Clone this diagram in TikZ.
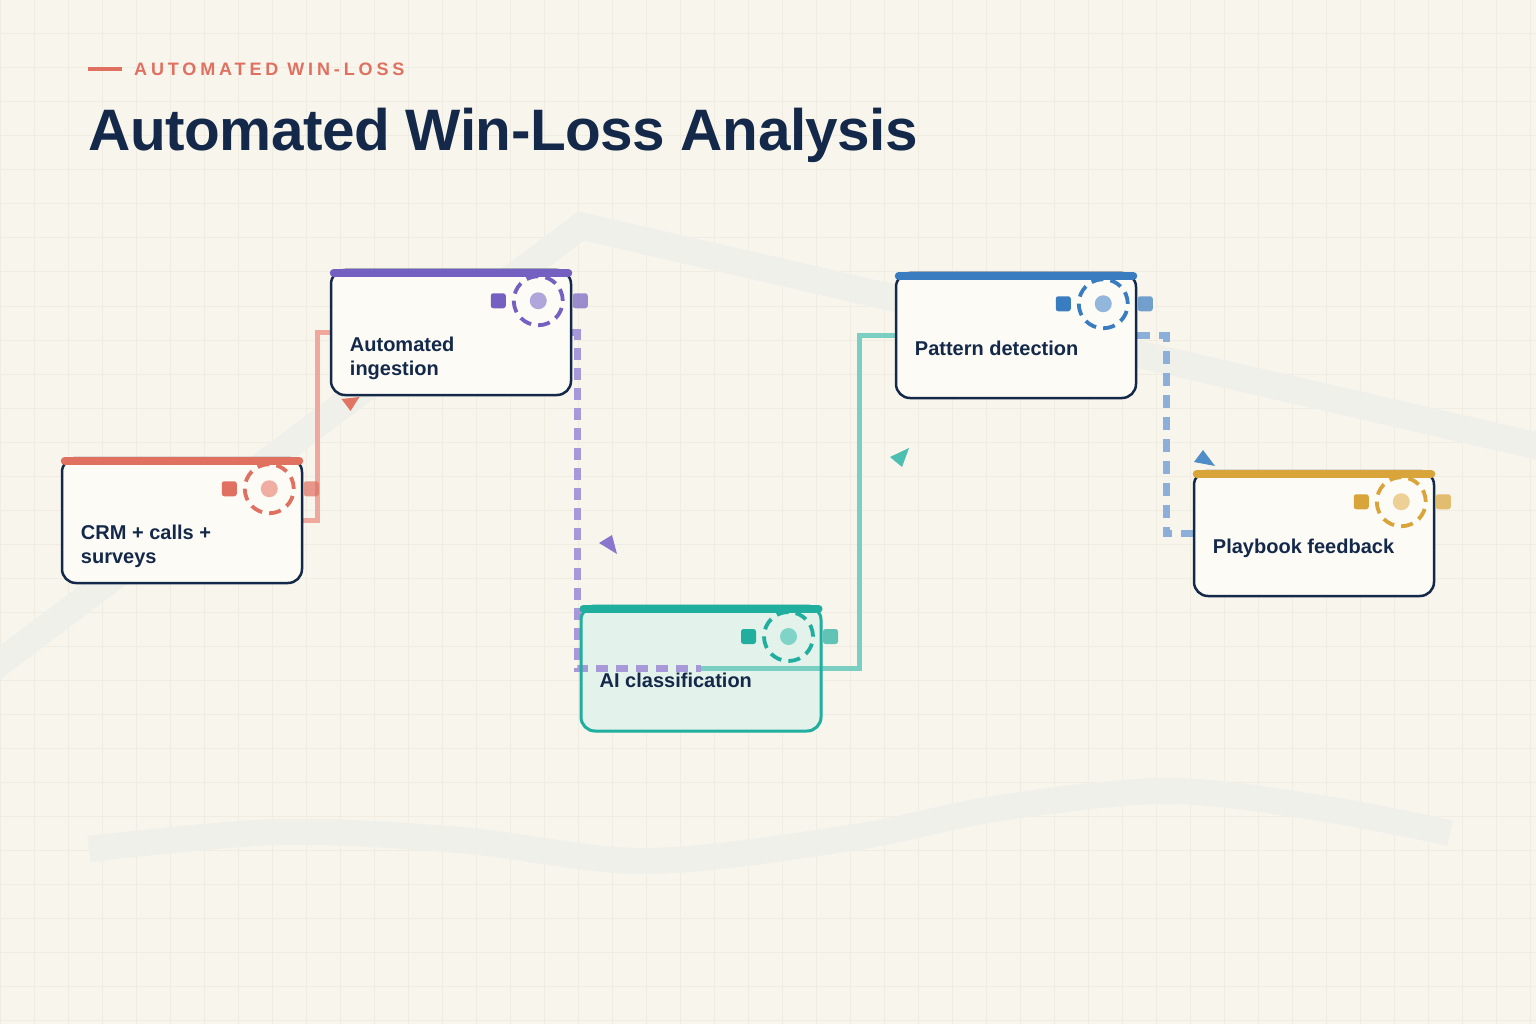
\documentclass[tikz,border=0pt]{standalone}
\usepackage{fontspec}
\setmainfont{Liberation Sans}
\newfontfamily\titlefont[LetterSpace=-0.8]{Liberation Sans}
\newfontfamily\kickerfont[LetterSpace=21.5]{Liberation Sans}
\usetikzlibrary{calc}
\definecolor{bgc}{HTML}{F8F5EC}
\definecolor{gridc}{HTML}{F0ECE2}
\definecolor{bandc}{HTML}{EEF0E9}
\definecolor{navy}{HTML}{14294A}
\definecolor{boxfill}{HTML}{FDFBF6}
\definecolor{aifillc}{HTML}{E3F2EB}
\definecolor{coral}{HTML}{E07060}
\definecolor{corallt}{HTML}{F0AEA2}
\definecolor{purp}{HTML}{7360C0}
\definecolor{purplt}{HTML}{B1A6DB}
\definecolor{teal}{HTML}{20AE9F}
\definecolor{teallt}{HTML}{80D3C7}
\definecolor{blu}{HTML}{3A7CC0}
\definecolor{blult}{HTML}{93B6DC}
\definecolor{gold}{HTML}{D9A43A}
\definecolor{goldlt}{HTML}{EDD095}
\definecolor{redge}{HTML}{EFA89B}
\definecolor{pedge}{HTML}{A798D9}
\definecolor{tedge}{HTML}{7BCFC2}
\definecolor{bedge}{HTML}{8BAFD9}
\definecolor{redtip}{HTML}{E07563}
\definecolor{purtip}{HTML}{8A76CE}
\definecolor{teatip}{HTML}{4DBFB0}
\definecolor{blutip}{HTML}{4F8DC8}
\pgfdeclarelayer{bg}
\pgfdeclarelayer{aifill}
\pgfdeclarelayer{edges}
\pgfsetlayers{bg,aifill,edges,main}
\newcommand{\portset}[3]{%
  \node[portsq, fill=#2] (#1-pl) at ($(#1.north east)+(-74,32)$) {};
  \node[ring, draw=#2] (#1-ring) at ($(#1.north east)+(-34,32)$) {};
  \node[pdot, fill=#3] (#1-dot) at (#1-ring.center) {};
  \node[portsq, fill=#2, fill opacity=0.7] (#1-pr) at ($(#1.north east)+(8,32)$) {};
}
\newcommand{\topbar}[2]{%
  \draw[line width=8pt, line cap=round, #2] ($(#1.north west)+(4,4)$) -- ($(#1.north east)+(-4,4)$);
}
\begin{document}
\begin{tikzpicture}[x=1pt,y=-1pt,
  box/.style={draw=navy, line width=2.5pt, rounded corners=14pt, minimum width=240pt, minimum height=125pt, fill=boxfill, inner sep=0pt},
  lbl/.style={font=\bfseries\fontsize{20}{24}\selectfont, text=navy, anchor=base west, align=left, inner sep=0pt},
  lbltwo/.style={lbl, anchor=north west},
  portsq/.style={rectangle, rounded corners=2.5pt, minimum size=15pt, inner sep=0pt},
  ring/.style={circle, minimum size=49pt, inner sep=0pt, line width=3.8pt, dash pattern=on 12pt off 7.2pt},
  pdot/.style={circle, minimum size=17pt, inner sep=0pt},
  redgeS/.style={draw=redge, line width=5pt},
  pedgeS/.style={draw=pedge, line width=6.5pt, dash pattern=on 12pt off 8pt},
  tedgeS/.style={draw=tedge, line width=5pt},
  bedgeS/.style={draw=bedge, line width=6.5pt, dash pattern=on 13pt off 9pt}]
\useasboundingbox (0,0) rectangle (1536,1024);
\begin{pgfonlayer}{bg}
  \fill[bgc] (0,0) rectangle (1536,1024);
  \foreach \x in {0,34,...,1536} \draw[gridc, line width=1pt] (\x,0) -- (\x,1024);
  \foreach \y in {0,34,...,1024} \draw[gridc, line width=1pt] (0,\y) -- (1536,\y);
  \draw[bandc, line width=27pt, line join=miter] (-10,670) -- (581,226) -- (1546,448);
  \draw[bandc, line width=26pt] plot[smooth, tension=0.55] coordinates {(89,849) (278,832) (460,840) (646,861) (850,838) (1000,808) (1168,791) (1320,808) (1450,833)};
\end{pgfonlayer}

% title
\draw[coral, line width=4pt] (88,69) -- (122,69);
\node[anchor=base west, inner sep=0pt, text=coral, font=\kickerfont\bfseries\fontsize{18}{20}\selectfont] (kicker) at (134,76) {AUTOMATED WIN-LOSS};
\node[anchor=base west, inner sep=0pt, text=navy, font=\titlefont\bfseries\fontsize{58.5}{62}\selectfont] (title) at (88,151) {Automated Win-Loss Analysis};

% boxes
\node[box] (crm) at (182,520.5) {};
\node[box] (ing) at (451,332.5) {};
\node[box, draw=teal, line width=3pt, fill=none] (ai) at (701,668.5) {};
\node[box] (pat) at (1016,335.5) {};
\node[box] (play) at (1314,533.5) {};

\begin{pgfonlayer}{aifill}
  \fill[aifillc, rounded corners=14pt] (ai.north west) rectangle (ai.south east);
\end{pgfonlayer}

\topbar{crm}{coral}
\topbar{ing}{purp}
\topbar{ai}{teal}
\topbar{pat}{blu}
\topbar{play}{gold}

\portset{crm}{coral}{corallt}
\portset{ing}{purp}{purplt}
\portset{ai}{teal}{teallt}
\portset{pat}{blu}{blult}
\portset{play}{gold}{goldlt}

\node[lbltwo] (crm-t) at ($(crm.north west)+(20,68)$) {CRM + calls +\\surveys};
\node[lbltwo] (ing-t) at ($(ing.north west)+(20,68)$) {Automated\\ingestion};
\node[lbl] (ai-t) at ($(ai.north west)+(20,83)$) {AI classification};
\node[lbl] (pat-t) at ($(pat.north west)+(20,84)$) {Pattern detection};
\node[lbl] (play-t) at ($(play.north west)+(20,84)$) {Playbook feedback};

% connectors
\begin{pgfonlayer}{edges}
  \draw[redgeS] (crm.east) -- ++(14,0) |- (ing.west);
  \draw[pedgeS] (ing.east) -- ++(5,0) |- (ai.center);
  \draw[tedgeS] (ai.center) -- ++(158,0) |- (pat.west);
  \draw[bedgeS] (pat.east) -- ++(29,0) |- (play.west);
\end{pgfonlayer}

% arrow tips
\fill[redtip] (341.5,399) -- (359.5,397) -- (350.5,411) -- cycle;
\fill[purtip] (599,543) -- (612,535) -- (617,554) -- cycle;
\fill[teatip] (890,457) -- (909,448) -- (902,467) -- cycle;
\fill[blutip] (1203,450) -- (1194,462) -- (1215,466) -- cycle;
\end{tikzpicture}
\end{document}
